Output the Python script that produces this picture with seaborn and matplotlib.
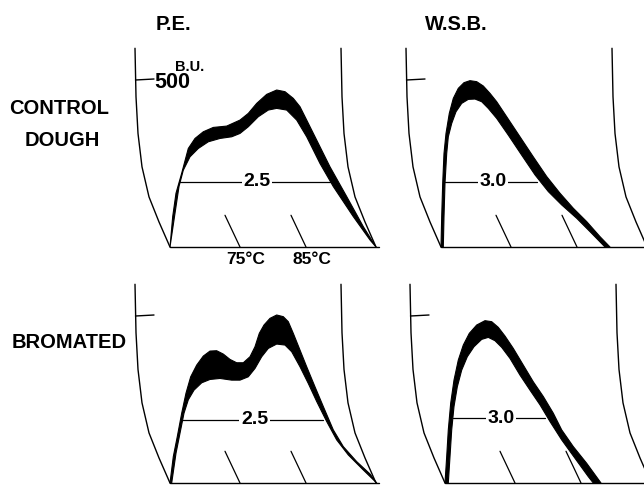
import matplotlib
matplotlib.use('Agg')
import matplotlib.pyplot as plt
import seaborn as sns

sns.set_style('white')
plt.rcParams['font.family'] = ['Liberation Sans', 'DejaVu Sans']
plt.rcParams['text.color'] = 'black'

# recorder chart geometry: x in chart units from where the pen arc meets the baseline, y in B.U.
chart_span = 206
arc_dx = [-35, -34, -32, -28, -21, -11, 0]
arc_bu = [595, 450, 340, 240, 150, 75, 0]
temp_mark_x = [70, 136]
temp_mark_lean = 15
temp_mark_top = 95
temp_labels = ['75°C', '85°C']
bu_tick = 500

# P.E., control dough (outer and inner edge of the pen band)
pe_ctrl_outer_x = [0, 2.7, 6, 11.7, 18.3, 25, 33.3, 43.3, 56.7, 70, 78.3, 86.7, 96.7, 106.7, 115,
                   123.3, 130, 136.7, 146.7, 160, 176.7, 193.3, 206]
pe_ctrl_outer_bu = [0, 91, 161, 221, 295, 325, 345, 358, 362, 380, 400, 430, 457, 470, 465,
                    445, 420, 380, 320, 240, 151, 61, 0]
pe_ctrl_inner_x = [0, 5, 9, 13.3, 20, 28.3, 38.3, 50, 61.7, 70, 78.3, 88.3, 98.3, 106.7, 116.7,
                   126.7, 136.7, 150, 163.3, 183.3, 200, 206]
pe_ctrl_inner_bu = [0, 101, 181, 230, 270, 295, 315, 325, 330, 340, 360, 390, 410, 415, 410,
                    380, 330, 250, 181, 91, 21, 0]
pe_ctrl_width = (10, 160, 195, '2.5')

# W.S.B., control dough
wsb_ctrl_outer_x = [0, 0.7, 1.7, 3, 5, 8.3, 12.3, 17.3, 23, 29, 35.7, 42.3, 49, 55.7, 65.7, 79,
                    92.3, 105.7, 119, 132.3, 145.7, 159, 169]
wsb_ctrl_outer_bu = [0, 91, 191, 280, 340, 400, 445, 475, 492, 498, 495, 482, 460, 435, 390, 330,
                     270, 211, 161, 116, 76, 31, 0]
wsb_ctrl_inner_x = [2.3, 3, 4, 5.7, 7.3, 10.7, 15, 20.7, 27.3, 34, 40.7, 47.3, 55.7, 67.3, 80.7,
                    94, 107.3, 120.7, 135.7, 149, 164]
wsb_ctrl_inner_bu = [0, 91, 191, 280, 330, 370, 405, 430, 442, 443, 435, 415, 385, 335, 275,
                     216, 166, 126, 86, 46, 0]
wsb_ctrl_width = (4, 96, 195, '3.0')

# P.E., bromated
pe_brom_outer_x = [0, 3.3, 7.3, 11.7, 16, 20.7, 26.7, 33.3, 40, 46.7, 53.3, 60, 66.7, 73.3, 80,
                   85, 89.3, 94, 100, 106.7, 113.3, 118.3, 123.3, 130, 136.7, 145, 153.3, 163.3,
                   173.3, 186.7, 200, 206.7]
pe_brom_outer_bu = [0, 79, 139, 209, 269, 318, 353, 380, 395, 396, 386, 370, 360, 360, 378,
                    408, 448, 473, 493, 503, 498, 483, 448, 398, 348, 288, 229, 159,
                    109, 64, 27, 0]
pe_brom_inner_x = [1.7, 6, 10, 14, 18.3, 24, 31.7, 40, 50, 61.7, 70, 78.3, 85, 91.7, 98.3, 106.7,
                   115, 121.7, 130, 138.3, 146.7, 156.7, 166.7, 178.3, 193.3, 206.7]
pe_brom_inner_bu = [0, 89, 149, 209, 249, 278, 300, 310, 313, 308, 308, 318, 343, 378, 403, 416,
                    413, 393, 348, 298, 244, 184, 129, 84, 39, 0]
pe_brom_width = (12, 153, 189, '2.5')

# W.S.B., bromated
wsb_brom_outer_x = [0, 1.7, 3.3, 5.7, 9, 13.3, 18.3, 24.3, 31.7, 40, 46.7, 53.3, 60, 68.3, 78.3,
                    88.3, 98.3, 108.3, 116.7, 128.3, 141.7, 156]
wsb_brom_outer_bu = [0, 79, 159, 239, 308, 368, 413, 448, 473, 486, 483, 466, 440, 403, 353,
                     303, 259, 209, 159, 109, 59, 0]
wsb_brom_inner_x = [3.3, 5, 6.7, 9, 12.3, 16.7, 22.3, 29, 36.7, 43.3, 50, 56.7, 65, 75, 85, 95,
                    105, 116.7, 130, 143.3, 148.3]
wsb_brom_inner_bu = [0, 79, 159, 229, 288, 338, 378, 408, 430, 436, 426, 406, 373, 323, 278,
                     234, 184, 129, 74, 19, 0]
wsb_brom_width = (8, 100, 194, '3.0')

W, H = 644, 487
fig = plt.figure(figsize=(W / 100, H / 100), dpi=100)

px_per_bu = 0.334
x_lo, x_hi = -45, 215
y_lo, y_hi = -60, 620


def add_panel(ox, base_y):
    left = (ox + x_lo) / W
    bottom = (H - (base_y - y_lo * px_per_bu)) / H
    ax = fig.add_axes([left, bottom, (x_hi - x_lo) / W, (y_hi - y_lo) * px_per_bu / H])
    ax.set_xlim(x_lo, x_hi)
    ax.set_ylim(y_lo, y_hi)
    ax.axis('off')
    return ax


panels = [
    (170, 247, pe_ctrl_outer_x, pe_ctrl_outer_bu, pe_ctrl_inner_x, pe_ctrl_inner_bu, pe_ctrl_width, True),
    (441, 247, wsb_ctrl_outer_x, wsb_ctrl_outer_bu, wsb_ctrl_inner_x, wsb_ctrl_inner_bu, wsb_ctrl_width, False),
    (170, 483, pe_brom_outer_x, pe_brom_outer_bu, pe_brom_inner_x, pe_brom_inner_bu, pe_brom_width, False),
    (445, 483, wsb_brom_outer_x, wsb_brom_outer_bu, wsb_brom_inner_x, wsb_brom_inner_bu, wsb_brom_width, False),
]

for ox, base_y, ox_x, ox_bu, in_x, in_bu, width, first in panels:
    ax = add_panel(ox, base_y)

    # pen arcs on both sides of the chart
    sns.lineplot(x=arc_dx, y=arc_bu, sort=False, estimator=None, color='black', lw=1.0, ax=ax)
    sns.lineplot(x=[d + chart_span for d in arc_dx], y=arc_bu, sort=False, estimator=None,
                 color='black', lw=1.0, ax=ax)
    # baseline
    sns.lineplot(x=[0, chart_span + 3], y=[0, 0], estimator=None, color='black', lw=1.0, ax=ax)
    # 500 B.U. mark
    sns.lineplot(x=[arc_dx[1] - 0.5, arc_dx[1] + 18], y=[bu_tick, bu_tick + 3], sort=False,
                 estimator=None, color='black', lw=1.0, ax=ax)
    # temperature marks
    for tx in temp_mark_x:
        sns.lineplot(x=[tx - temp_mark_lean, tx], y=[temp_mark_top, 0], sort=False,
                     estimator=None, color='black', lw=0.9, ax=ax)

    # the amylogram band
    ax.fill(list(ox_x) + list(in_x)[::-1], list(ox_bu) + list(in_bu)[::-1],
            color='black', lw=0.8, ec='black', joinstyle='round')

    # band width line with its value
    wx0, wx1, wbu, wlab = width
    sns.lineplot(x=[wx0, wx1], y=[wbu, wbu], estimator=None, color='black', lw=0.9, ax=ax)
    ax.text((wx0 + wx1) / 2 + 2, wbu, wlab, ha='center', va='center', fontsize=14,
            fontweight='bold', bbox=dict(fc='white', ec='none', pad=1.2))

    if first:
        ax.text(-16, bu_tick - 8, '500', ha='left', va='center', fontsize=15.5, fontweight='bold')
        ax.text(5, 540, 'B.U.', ha='left', va='center', fontsize=10.5, fontweight='bold')
        for tx, lab in zip(temp_mark_x, temp_labels):
            ax.text(tx + 6, -38, lab, ha='center', va='center', fontsize=12.5, fontweight='bold')


# column and row titles
def fig_text(x, y, s):
    fig.text(x / W, 1 - y / H, s, ha='center', va='center', fontsize=14.5, fontweight='bold')


fig_text(173, 25, 'P.E.')
fig_text(456, 25, 'W.S.B.')
fig_text(59, 108, 'CONTROL')
fig_text(62, 140, 'DOUGH')
fig_text(69, 342, 'BROMATED')

fig.savefig('out.png', dpi=100, facecolor='white')
